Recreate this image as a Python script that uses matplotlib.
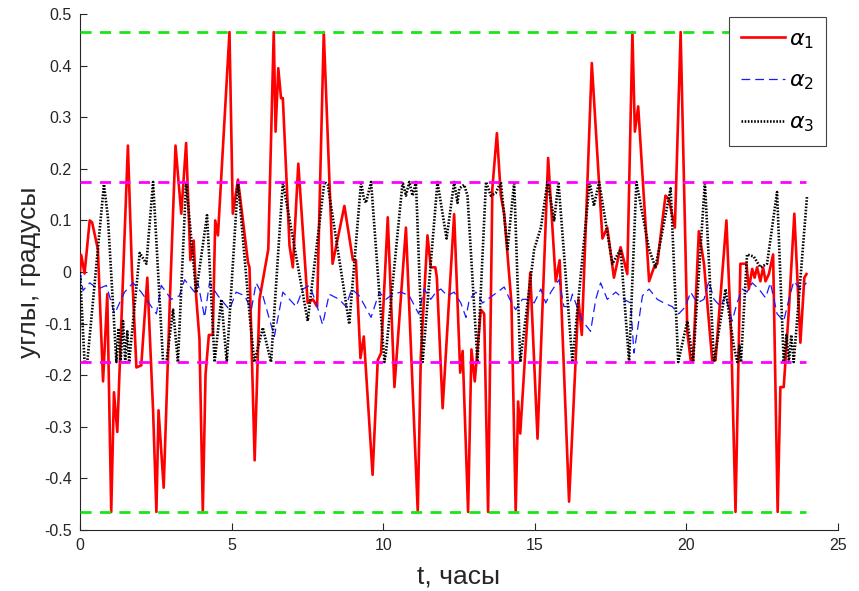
import numpy as np
import matplotlib
matplotlib.use('Agg')
import matplotlib.pyplot as plt

# ---------------- data ----------------
t1 = [0.00, 0.04, 0.15, 0.32, 0.40, 0.59, 0.76, 0.90, 1.03, 1.12, 1.23, 1.58, 1.71, 1.86, 2.02,
      2.22, 2.41, 2.52, 2.59, 2.76, 2.96, 3.15, 3.34, 3.50, 3.64, 3.75, 3.83, 3.94, 4.05, 4.14,
      4.25, 4.38, 4.46, 4.55, 4.93, 5.04, 5.21, 5.54, 5.59, 5.76, 5.92, 6.21, 6.39, 6.45, 6.54,
      6.63, 6.69, 6.91, 7.02, 7.20, 7.51, 7.68, 7.82, 8.04, 8.33, 8.72, 9.00, 9.10, 9.25, 9.36,
      9.65, 9.82, 9.93, 10.15, 10.37, 10.75, 11.14, 11.24, 11.46, 11.57, 11.72, 11.77, 11.96, 12.34,
      12.54, 12.62, 12.80, 12.91, 13.02, 13.22, 13.33, 13.46, 13.60, 13.75, 13.88, 13.99, 14.23,
      14.37, 14.45, 14.52, 14.85, 15.09, 15.44, 15.69, 15.82, 16.13, 16.44, 16.55, 16.88, 17.23,
      17.39, 17.61, 17.83, 18.05, 18.22, 18.30, 18.41, 18.77, 18.93, 19.04, 19.31, 19.42, 19.62,
      19.81, 20.03, 20.14, 20.22, 20.41, 20.58, 20.85, 20.96, 21.32, 21.48, 21.62, 21.78, 21.98,
      22.06, 22.17, 22.25, 22.33, 22.44, 22.53, 22.61, 22.72, 22.86, 23.01, 23.10, 23.21, 23.38,
      23.56, 23.76, 23.89, 23.96]
a1 = [0.00, 0.033, -0.003, 0.100, 0.096, 0.044, -0.212, -0.043, -0.465, -0.233, -0.310, 0.245, 0.009, -0.185, -0.181,
      -0.011, -0.268, -0.465, -0.268, -0.418, -0.061, 0.245, 0.113, 0.250, 0.023, 0.061, -0.046, -0.130, -0.465, -0.199,
      -0.122, -0.122, 0.100, 0.071, 0.465, 0.113, 0.179, 0.019, 0.009, -0.365, -0.053, 0.044, 0.465, 0.272, 0.395,
      0.337, 0.337, 0.051, 0.009, 0.210, -0.060, -0.053, -0.067, 0.465, 0.016, 0.128, 0.023, 0.023, -0.167, -0.125,
      -0.393, -0.171, -0.157, 0.106, -0.223, 0.086, -0.465, -0.164, 0.071, 0.009, 0.009, -0.011, -0.264, 0.112,
      -0.195, -0.153, -0.465, -0.150, -0.212, -0.073, -0.081, -0.465, 0.162, 0.269, 0.148, 0.113, -0.060,
      -0.465, -0.251, -0.313, -0.001, -0.323, 0.221, -0.018, 0.023, -0.445, -0.053, -0.122, 0.405, 0.065,
      0.086, -0.011, 0.048, -0.004, 0.465, 0.272, 0.321, -0.018, 0.009, 0.016, 0.148, 0.141, 0.086,
      0.465, -0.116, -0.171, -0.171, 0.079, 0.016, -0.171, -0.171, 0.100, -0.130, -0.465, 0.016, 0.016,
      -0.033, 0.006, -0.011, 0.009, -0.018, 0.009, -0.018, -0.004, 0.034, -0.465, -0.223, -0.223, -0.073,
      0.113, -0.137, -0.011, -0.004]

t2 = [0.00, 0.10, 0.32, 0.59, 0.87, 1.14, 1.47, 1.75, 2.02, 2.52, 2.68, 3.01, 3.28, 3.45, 3.78,
      3.89, 4.11, 4.27, 4.55, 4.93, 5.15, 5.43, 5.65, 5.81, 6.03, 6.41, 6.69, 6.91, 7.13, 7.35,
      7.57, 7.79, 8.00, 8.22, 8.55, 8.77, 8.96, 9.21, 9.60, 9.87, 10.09, 10.31, 10.59, 10.86, 11.17,
      11.35, 11.57, 11.74, 11.90, 12.12, 12.34, 12.56, 12.73, 12.84, 13.06, 13.28, 13.44, 13.77, 13.99,
      14.15, 14.37, 14.59, 14.81, 14.98, 15.20, 15.36, 15.53, 15.80, 15.96, 16.13, 16.24, 16.57, 16.84,
      17.01, 17.17, 17.39, 17.67, 17.94, 18.16, 18.27, 18.38, 18.55, 18.77, 19.04, 19.26, 19.53, 19.75,
      19.97, 20.14, 20.36, 20.58, 20.74, 20.91, 21.13, 21.29, 21.51, 21.67, 21.84, 22.00, 22.17, 22.39,
      22.61, 22.77, 22.99, 23.21, 23.38, 23.54, 23.76, 23.96]
a2 = [0.000, -0.036, -0.021, -0.033, -0.026, -0.081, -0.039, -0.021, -0.039, -0.081, -0.026, -0.053, -0.046, -0.015, -0.039,
      -0.021, -0.088, -0.021, -0.046, -0.073, -0.039, -0.046, -0.073, -0.021, -0.046, -0.125, -0.039, -0.053, -0.067, -0.033,
      -0.026, -0.060, -0.102, -0.043, -0.053, -0.067, -0.033, -0.046, -0.088, -0.039, -0.053, -0.043, -0.039, -0.046, -0.081,
      -0.033, -0.053, -0.039, -0.033, -0.046, -0.039, -0.060, -0.088, -0.053, -0.039, -0.060, -0.053, -0.039, -0.029,
      -0.050, -0.073, -0.053, -0.053, -0.060, -0.033, -0.060, -0.039, -0.015, -0.067, -0.067, -0.043, -0.095, -0.115,
      -0.053, -0.021, -0.053, -0.039, -0.053, -0.060, -0.157, -0.115, -0.046, -0.033, -0.053, -0.060, -0.067, -0.081,
      -0.067, -0.039, -0.060, -0.053, -0.018, -0.053, -0.067, -0.046, -0.095, -0.060, -0.033, -0.039, -0.021, -0.033,
      -0.050, -0.021, -0.081, -0.095, -0.053, -0.018, -0.033, -0.021]

t3 = [0.00, 0.15, 0.24, 0.79, 0.92, 1.20, 1.27, 1.34, 1.42, 1.49, 1.56, 1.62, 1.97, 2.19, 2.41,
      2.74, 2.85, 3.07, 3.23, 3.50, 3.83, 4.19, 4.44, 4.66, 4.84, 5.21, 5.59, 5.75, 6.03, 6.30,
      6.69, 7.51, 8.06, 8.17, 8.88, 9.27, 9.36, 9.43, 9.60, 10.04, 10.09, 10.64, 10.75, 10.86, 10.97,
      11.08, 11.30, 11.79, 12.09, 12.34, 12.45, 12.51, 12.67, 12.78, 13.11, 13.39, 13.55, 13.71, 13.88,
      14.10, 14.32, 14.52, 14.98, 15.20, 15.42, 15.64, 15.78, 16.24, 16.81, 16.95, 17.12, 17.56, 17.83,
      18.11, 18.35, 18.77, 18.98, 19.48, 19.73, 20.03, 20.22, 20.61, 20.91, 21.29, 21.56, 21.68, 21.75,
      21.80, 22.00, 22.22, 22.44, 22.66, 22.99, 23.21, 23.30, 23.38, 23.46, 23.54, 23.98]
a3 = [0.000, -0.1745, -0.1745, 0.170, 0.106, -0.1745, -0.109, -0.1745, -0.095, -0.1745, -0.115, -0.1745, 0.037, 0.016, 0.1745,
      -0.1745, -0.1745, -0.073, -0.1745, 0.1745, -0.040, 0.110, -0.1745, -0.053, -0.1745, 0.1745, -0.081, -0.1745, -0.108, -0.1745,
      0.1745, -0.095, 0.1745, 0.170, -0.101, 0.1745, 0.143, 0.134, 0.1745, -0.1745, -0.157, 0.1745, 0.148, 0.1745, 0.148,
      0.1745, -0.1745, 0.1745, 0.065, 0.1745, 0.134, 0.162, 0.169, 0.148, -0.1745, 0.1745, 0.148, 0.153, 0.1745,
      0.044, 0.1745, -0.1745, 0.044, 0.086, 0.1745, 0.100, 0.1745, -0.1745, 0.1745, 0.128, 0.1745, 0.016, 0.044,
      -0.1745, 0.1745, 0.044, 0.009, 0.162, -0.1745, -0.095, -0.1745, 0.1745, -0.1745, -0.033, -0.143, -0.1745, -0.143,
      -0.1745, 0.034, 0.030, 0.009, 0.016, 0.155, -0.1745, -0.122, -0.1745, -0.122, -0.1745, 0.148]

lim_outer = 0.465    # green limits
lim_inner = 0.1745   # magenta limits

xticks = [0, 5, 10, 15, 20, 25]
yticks = [-0.5, -0.4, -0.3, -0.2, -0.1, 0, 0.1, 0.2, 0.3, 0.4, 0.5]
ytick_labels = ['-0.5', '-0.4', '-0.3', '-0.2', '-0.1', '0', '0.1', '0.2', '0.3', '0.4', '0.5']

# ---------------- plot ----------------
plt.rcParams['font.family'] = ['Liberation Sans', 'DejaVu Sans']
gray = '#262626'

fig = plt.figure(figsize=(8.59, 5.91), dpi=100)
ax = fig.add_axes([80/859, 1-530/591, 758/859, 516/591])

ax.plot(t1, a1, color='red', lw=1.9, label=r'$\alpha_1$', zorder=3)
ax.plot(t2, a2, color='#1a1aff', lw=0.9, ls=(0, (7, 4)), label=r'$\alpha_2$', zorder=3)
ax.plot(t3, a3, color='black', lw=1.9, ls=(0, (0.6, 0.6)), label=r'$\alpha_3$', zorder=3)

tmax = t1[-1]
for v in (lim_outer, -lim_outer):
    ax.plot([0, tmax], [v, v], color='#19e619', lw=2, ls=(0, (4, 3)), zorder=4)
for v in (lim_inner, -lim_inner):
    ax.plot([0, tmax], [v, v], color='#ff00ff', lw=2, ls=(0, (4, 3)), zorder=4)

ax.set_xlim(0, 25)
ax.set_ylim(-0.5, 0.5)
ax.set_xticks(xticks)
ax.set_xticklabels([str(x) for x in xticks])
ax.set_yticks(yticks)
ax.set_yticklabels(ytick_labels)

for s in ('top', 'right'):
    ax.spines[s].set_visible(False)
for s in ('left', 'bottom'):
    ax.spines[s].set_color(gray)
    ax.spines[s].set_linewidth(0.8)
ax.tick_params(direction='in', length=5, width=0.8, colors=gray, labelsize=11.5, pad=6)

ax.set_xlabel('t, часы', fontsize=19, color=gray, labelpad=8)
ax.set_ylabel('углы, градусы', fontsize=19, color=gray, labelpad=2)

leg = ax.legend(loc='upper right', bbox_to_anchor=(826/859, 1-17/591),
                bbox_transform=fig.transFigure, fontsize=16, handlelength=2.0,
                handletextpad=0.15, borderaxespad=0, fancybox=False, framealpha=1,
                edgecolor='#444444', labelspacing=0.9, borderpad=0.55)
leg.get_frame().set_linewidth(0.8)

plt.savefig('out.png', dpi=100)
